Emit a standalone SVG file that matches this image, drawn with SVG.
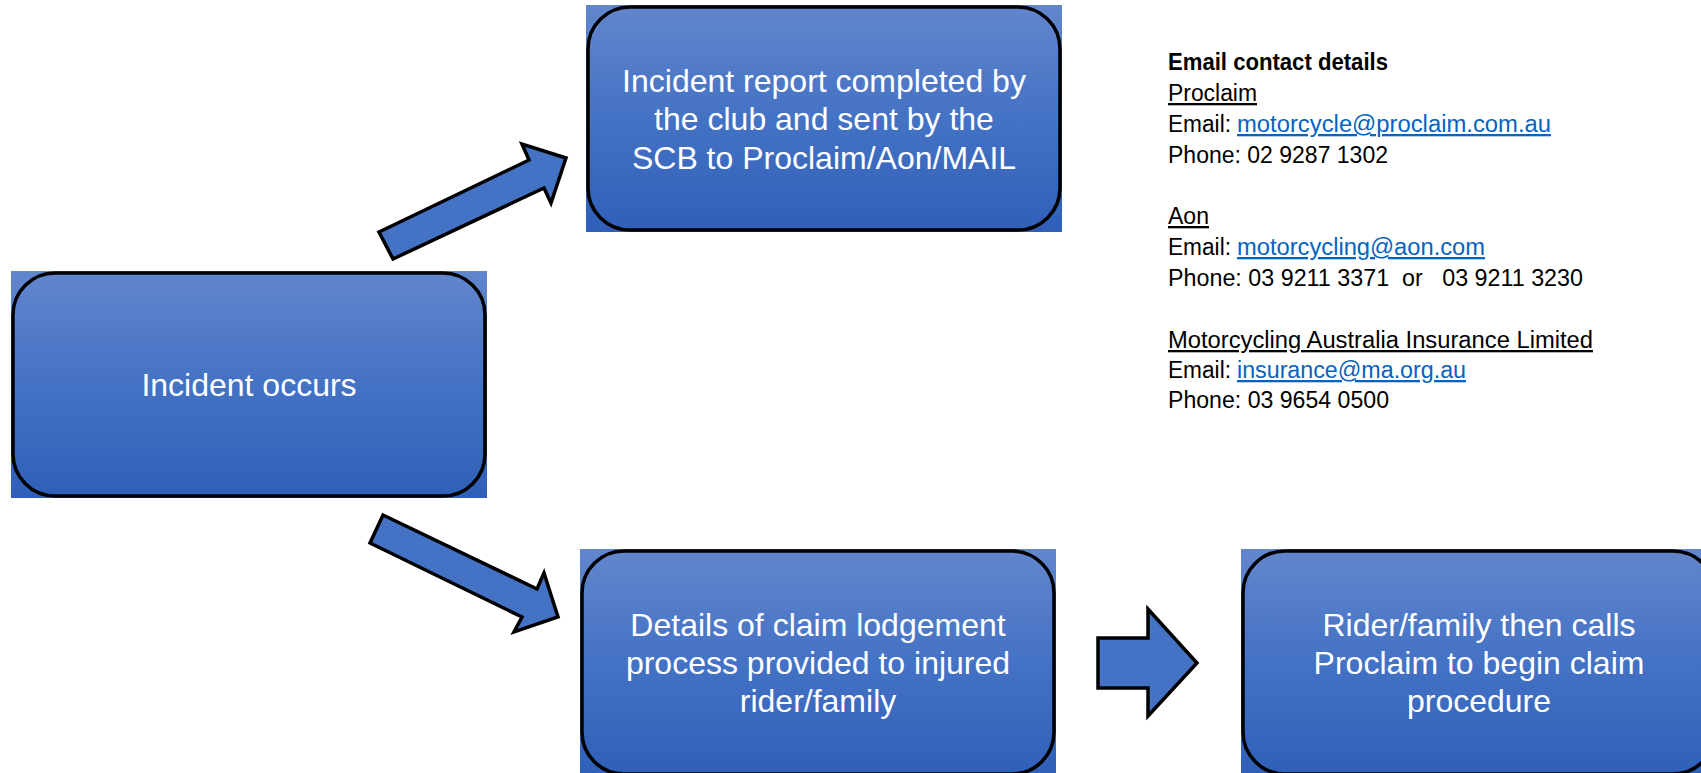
<svg xmlns="http://www.w3.org/2000/svg" width="1701" height="773" viewBox="0 0 1701 773">
<style>
.fill{fill:url(#g)}
.bd{fill:none;stroke:#000;stroke-width:3.5}
.bt{font-family:"Liberation Sans",Arial,sans-serif;font-size:32px;fill:#fff;text-anchor:middle}
.arr{fill:#4472C4;stroke:#000;stroke-width:3.5;stroke-linejoin:miter}
.ct{font-family:"Liberation Sans",Arial,sans-serif;font-size:23px;fill:#000}
.hd{text-decoration:underline}
.lk{fill:#0563C1;text-decoration:underline}
</style>
<defs>
<linearGradient id="g" x1="0" y1="0" x2="0" y2="1">
<stop offset="0" stop-color="#6286CD"/>
<stop offset="0.5" stop-color="#4472C4"/>
<stop offset="1" stop-color="#2F5FB8"/>
</linearGradient>
</defs>
<rect width="1701" height="773" fill="#fff"/>
<g id="connectors">
<polygon class="arr" points="379,232 529,160 522,144 566,158 551,203 544,188 393,259"/>
<polygon class="arr" points="383,515 537,589 544,573 558,617 514,632 522,617 370,543"/>
<polygon class="arr" points="1098,638 1148,638 1148,609 1197,663 1148,716 1148,688 1098,688"/>
</g>
<g id="n_incident">
<rect class="fill" x="11" y="271" width="476" height="227"/>
<rect class="bd" x="13" y="273" width="472" height="223" rx="42"/>
<text class="bt" x="249" y="396">Incident occurs</text>
</g>
<g id="n_report">
<rect class="fill" x="586" y="5" width="476" height="227"/>
<rect class="bd" x="588" y="7" width="472" height="223" rx="42"/>
<text class="bt" x="824" y="92">Incident report completed by</text>
<text class="bt" x="824" y="130">the club and sent by the</text>
<text class="bt" x="824" y="169">SCB to Proclaim/Aon/MAIL</text>
</g>
<g id="n_details">
<rect class="fill" x="580" y="549" width="476" height="227"/>
<rect class="bd" x="582" y="551" width="472" height="223" rx="42"/>
<text class="bt" x="818" y="636">Details of claim lodgement</text>
<text class="bt" x="818" y="674">process provided to injured</text>
<text class="bt" x="818" y="712">rider/family</text>
</g>
<g id="n_rider">
<rect class="fill" x="1241" y="549" width="476" height="227"/>
<rect class="bd" x="1243" y="551" width="472" height="223" rx="42"/>
<text class="bt" x="1479" y="636">Rider/family then calls</text>
<text class="bt" x="1479" y="674">Proclaim to begin claim</text>
<text class="bt" x="1479" y="712">procedure</text>
</g>
<g id="contacts">
<text class="ct" x="1168" y="70" font-weight="bold" textLength="220" lengthAdjust="spacingAndGlyphs">Email contact details</text>
<text class="ct hd" x="1168" y="101" textLength="89" lengthAdjust="spacingAndGlyphs">Proclaim</text>
<text class="ct" x="1168" y="132" textLength="63" lengthAdjust="spacingAndGlyphs">Email:</text>
<text class="ct lk" x="1237" y="132" textLength="314" lengthAdjust="spacingAndGlyphs">motorcycle@proclaim.com.au</text>
<text class="ct" x="1168" y="163" textLength="220" lengthAdjust="spacingAndGlyphs">Phone: 02 9287 1302</text>
<text class="ct hd" x="1168" y="224" textLength="41" lengthAdjust="spacingAndGlyphs">Aon</text>
<text class="ct" x="1168" y="255" textLength="63" lengthAdjust="spacingAndGlyphs">Email:</text>
<text class="ct lk" x="1237" y="255" textLength="248" lengthAdjust="spacingAndGlyphs">motorcycling@aon.com</text>
<text class="ct" x="1168" y="286" xml:space="preserve" style="white-space:pre" textLength="415" lengthAdjust="spacingAndGlyphs">Phone: 03 9211 3371  or   03 9211 3230</text>
<text class="ct hd" x="1168" y="348" textLength="425" lengthAdjust="spacingAndGlyphs">Motorcycling Australia Insurance Limited</text>
<text class="ct" x="1168" y="378" textLength="63" lengthAdjust="spacingAndGlyphs">Email:</text>
<text class="ct lk" x="1237" y="378" textLength="229" lengthAdjust="spacingAndGlyphs">insurance@ma.org.au</text>
<text class="ct" x="1168" y="408" textLength="221" lengthAdjust="spacingAndGlyphs">Phone: 03 9654 0500</text>
</g>
</svg>
